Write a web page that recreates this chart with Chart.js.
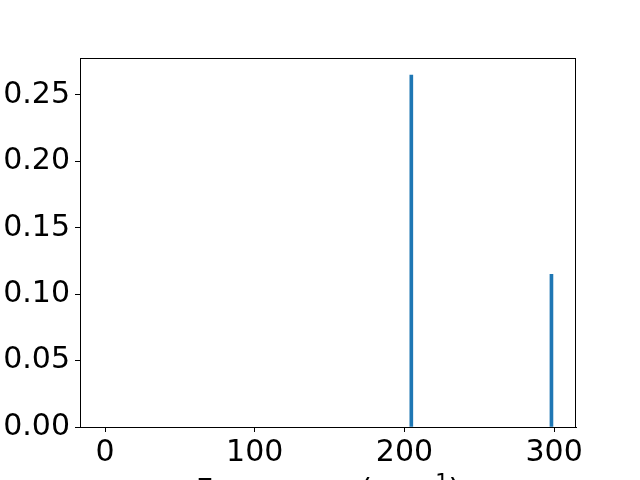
<!DOCTYPE html>
<html>
<head>
<meta charset="utf-8">
<script src="https://cdn.jsdelivr.net/npm/chart.js@4"></script>
<style>
  html, body { margin: 0; padding: 0; overflow: hidden; background: #fff; }
  #wrap { width: 640px; height: 510px; position: relative; }
</style>
</head>
<body>
<div id="wrap"><canvas id="myChart"></canvas></div>
<script>
const frequencies = [204.6, 298.2];
const intensities = [0.265, 0.115];
const xTicks = [0, 100, 200, 300];
const yTicks = [0, 0.05, 0.10, 0.15, 0.20, 0.25];

const font = {family: 'DejaVu Sans', size: 30};

// frame on all four sides plus x label with a raised exponent
const frame = {
    id: 'frame',
    afterDraw: (chart) => {
        const {ctx, chartArea} = chart;
        ctx.save();
        ctx.strokeStyle = '#000000';
        ctx.lineWidth = 1;
        ctx.strokeRect(chartArea.left + 0.5, chartArea.top + 0.5,
            chartArea.right - chartArea.left - 1, chartArea.bottom - chartArea.top);

        const main = 'Frequency (cm', sup = '\u22121', close = ')';
        const big = '30px "DejaVu Sans"', small = '21px "DejaVu Sans"';
        ctx.font = big;
        const w1 = ctx.measureText(main).width, w3 = ctx.measureText(close).width;
        ctx.font = small;
        const w2 = ctx.measureText(sup).width;
        let x = (chartArea.left + chartArea.right) / 2 - (w1 + w2 + w3) / 2;
        const base = 500;
        ctx.fillStyle = '#000000';
        ctx.textAlign = 'left';
        ctx.textBaseline = 'alphabetic';
        ctx.font = big;
        ctx.fillText(main, x, base);
        x += w1;
        ctx.font = small;
        ctx.fillText(sup, x, base - 11);
        x += w2;
        ctx.font = big;
        ctx.fillText(close, x, base);
        ctx.restore();
    }
};

new Chart(document.getElementById('myChart'), {
    type: 'bar',
    data: {
        datasets: [{
            data: frequencies.map((f, i) => ({x: f, y: intensities[i]})),
            backgroundColor: '#1f77b4',
            borderWidth: 0,
            barThickness: 3
        }]
    },
    options: {
        responsive: true,
        maintainAspectRatio: false,
        animation: false,
        layout: {padding: {top: 58, right: 64, left: 0, bottom: 0}},
        plugins: {legend: {display: false}, tooltip: {enabled: false}},
        scales: {
            x: {
                type: 'linear',
                offset: false,
                min: -16.7,
                max: 314.6,
                afterBuildTicks: (s) => { s.ticks = xTicks.map(v => ({value: v})); },
                afterFit: (s) => { s.height = 83; },
                grid: {offset: false, drawOnChartArea: false, tickLength: 5, tickColor: '#000000'},
                border: {color: '#000000'},
                ticks: {color: '#000000', font: font, padding: 3, maxRotation: 0}
            },
            y: {
                min: 0,
                max: 0.2778,
                afterBuildTicks: (s) => { s.ticks = yTicks.map(v => ({value: v})); },
                afterFit: (s) => { s.width = 80; },
                grid: {drawOnChartArea: false, tickLength: 5, tickColor: '#000000'},
                border: {color: '#000000'},
                ticks: {color: '#000000', font: font, padding: 5, callback: (v) => v.toFixed(2)}
            }
        }
    },
    plugins: [frame]
});
</script>
</body>
</html>
